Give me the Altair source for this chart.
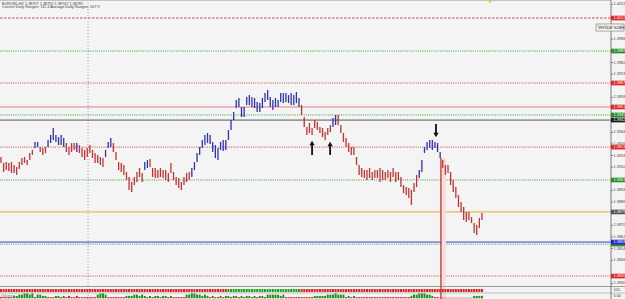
import altair as alt
import pandas as pd

# ---------------- data ----------------
high = [
    1.39170, 1.39129, 1.39135, 1.39129, 1.39135, 1.39115, 1.39101, 1.39135, 1.39163, 1.39170,
    1.39149, 1.39197, 1.39218, 1.39273, 1.39273, 1.39238, 1.39232, 1.39238, 1.39287, 1.39321,
    1.39369, 1.39321, 1.39307, 1.39321, 1.39300, 1.39266, 1.39238, 1.39266, 1.39266, 1.39266,
    1.39252, 1.39232, 1.39218, 1.39232, 1.39252, 1.39218, 1.39197, 1.39184, 1.39170, 1.39163,
    1.39218, 1.39273, 1.39300, 1.39266, 1.39204, 1.39135, 1.39129, 1.39115, 1.39067, 1.39032,
    1.38998, 1.39032, 1.39067, 1.39094, 1.39060, 1.39135, 1.39149, 1.39156, 1.39094, 1.39094,
    1.39080, 1.39094, 1.39080, 1.39080, 1.39060, 1.39129, 1.39067, 1.39032, 1.39025, 1.38998,
    1.39032, 1.39060, 1.39067, 1.39094, 1.39135, 1.39197, 1.39238, 1.39287, 1.39321, 1.39335,
    1.39321, 1.39273, 1.39252, 1.39232, 1.39273, 1.39287, 1.39287, 1.39356, 1.39424, 1.39479,
    1.39562, 1.39576, 1.39514, 1.39514, 1.39583, 1.39596, 1.39583, 1.39576, 1.39548, 1.39541,
    1.39576, 1.39610, 1.39631, 1.39583, 1.39562, 1.39576, 1.39562, 1.39610, 1.39610, 1.39610,
    1.39596, 1.39610, 1.39596, 1.39617, 1.39576, 1.39528, 1.39445, 1.39376, 1.39404, 1.39369,
    1.39424, 1.39411, 1.39376, 1.39369, 1.39342, 1.39369, 1.39390, 1.39438, 1.39459, 1.39459,
    1.39390, 1.39335, 1.39300, 1.39266, 1.39238, 1.39238, 1.39170, 1.39115, 1.39094, 1.39080,
    1.39080, 1.39094, 1.39067, 1.39080, 1.39080, 1.39094, 1.39080, 1.39067, 1.39080, 1.39067,
    1.39094, 1.39067, 1.39067, 1.39032, 1.38977, 1.38963, 1.38956, 1.38943, 1.38991, 1.39046,
    1.39080, 1.39149, 1.39238, 1.39273, 1.39287, 1.39287, 1.39273, 1.39266, 1.39204, 1.39149,
    1.39115, 1.39115, 1.39067, 1.39012, 1.38963, 1.38908, 1.38860, 1.38826, 1.38792, 1.38792,
    1.38757, 1.38716, 1.38702, 1.38750, 1.38785,
]
low = [
    1.39129, 1.39067, 1.39080, 1.39074, 1.39060, 1.39060, 1.39046, 1.39087, 1.39115, 1.39129,
    1.39115, 1.39149, 1.39184, 1.39232, 1.39238, 1.39204, 1.39184, 1.39197, 1.39238, 1.39266,
    1.39287, 1.39273, 1.39252, 1.39252, 1.39238, 1.39204, 1.39184, 1.39204, 1.39218, 1.39204,
    1.39197, 1.39170, 1.39149, 1.39170, 1.39197, 1.39163, 1.39129, 1.39129, 1.39115, 1.39101,
    1.39170, 1.39232, 1.39238, 1.39204, 1.39149, 1.39080, 1.39067, 1.39046, 1.39012, 1.38943,
    1.38929, 1.38977, 1.38998, 1.39032, 1.38998, 1.39080, 1.39094, 1.39101, 1.39032, 1.39025,
    1.39025, 1.39032, 1.39025, 1.39012, 1.38998, 1.39060, 1.39012, 1.38977, 1.38956, 1.38943,
    1.38977, 1.38998, 1.39012, 1.39032, 1.39080, 1.39135, 1.39184, 1.39232, 1.39252, 1.39266,
    1.39259, 1.39204, 1.39163, 1.39149, 1.39218, 1.39211, 1.39218, 1.39287, 1.39356, 1.39424,
    1.39507, 1.39514, 1.39445, 1.39445, 1.39528, 1.39528, 1.39514, 1.39507, 1.39479, 1.39479,
    1.39507, 1.39548, 1.39562, 1.39514, 1.39493, 1.39514, 1.39514, 1.39548, 1.39541, 1.39548,
    1.39541, 1.39528, 1.39528, 1.39541, 1.39514, 1.39459, 1.39376, 1.39321, 1.39335, 1.39321,
    1.39369, 1.39356, 1.39335, 1.39307, 1.39287, 1.39321, 1.39342, 1.39376, 1.39390, 1.39390,
    1.39335, 1.39273, 1.39238, 1.39204, 1.39184, 1.39184, 1.39115, 1.39046, 1.39032, 1.39025,
    1.39012, 1.39025, 1.39012, 1.39025, 1.39025, 1.38998, 1.39012, 1.39012, 1.39025, 1.38998,
    1.39032, 1.38998, 1.39012, 1.38963, 1.38922, 1.38908, 1.38888, 1.38840, 1.38929, 1.38963,
    1.39025, 1.39067, 1.39197, 1.39218, 1.39232, 1.39218, 1.39232, 1.39204, 1.39163, 1.39094,
    1.39046, 1.39060, 1.38977, 1.38929, 1.38888, 1.38826, 1.38792, 1.38736, 1.38723, 1.38736,
    1.38716, 1.38647, 1.38633, 1.38681, 1.38736,
]
# bar colour runs: u = blue (up), d = red (down)
dir_runs = [("d", 13), ("u", 2), ("d", 3), ("u", 7), ("d", 4), ("u", 1), ("d", 10),
            ("u", 3), ("d", 12), ("u", 2), ("d", 16), ("u", 42), ("d", 12), ("u", 2),
            ("d", 31), ("u", 9), ("d", 16)]
# trend squares in the first indicator window
trend_runs = [("dn", 87), ("up", 28), ("dn", 70)]
# histogram in the second indicator window (positive = green, negative = red)
hist = [
    -1, -1, -1, -1, 1, 2, 2, 3, 3, 4, 4, 3, 4, -1, 3, 3, 2, 2, -1, -1, -1, 2, 2, -1, 2,
    -1, -2, -1, -1, -2, -1, 1, -1, -1, -1, -1, -1, 3, 4, 4, 3, -1, -1, -1, -1, -1, -1, -1,
    2, 2, 2, 3, 3, 2, 3, 2, -1, 2, -1, 2, 2, -1, 2, 2, -1, 2, -1, -1, -1, -1, -1,
    3, 3, 4, 4, 3, 3, 2, 3, 2, -1, 2, -1, -1, 2, -1, 2, 2, -1, 2, 2, -1, 2, -1, 2,
    2, -1, 2, -1, 2, 2, -1, 3, 3, 3, 3, 3, 2, 3, -1, -1, -1, -1, -1, -1, -1, -1, -1, -1, -1,
    2, 2, 2, 2, 2, 3, 3, 3, 4, 3, 3, 3, -1, 2, -1, 2, -1, -1, -1, -1, -1, -1, -1, -1,
    -1, 1, -1, -1, -1, -1, -1, -1, -1, -1, -1, -1, -1, 2, 3, 3, 4, 4, 4, 3, 3, 2, -1, -1,
    -0.5, -0.5, -0.5, -0.5, -0.5, -0.5, -0.5, -0.5, -0.5, -0.5, -0.5, -0.5, -0.5, 2, 2, 2, 2,
]

level_price = [1.40126, 1.39899, 1.39679, 1.39514, 1.39459, 1.39424, 1.39238,
               1.39012, 1.38792, 1.38571, 1.38585, 1.38351]
level_line = ["#d24545", "#3a9a3a", "#d24545", "#e48080", "#3a9a3a", "#555555", "#d24545",
              "#3a9a3a", "#f0a830", "#3a9a3a", "#4040cc", "#d24545"]
level_style = ["dash", "dot", "dot", "solid", "dot", "solid", "dot",
               "dot", "solid", "dot", "solid", "dot"]
level_box = ["#e02424", "#2a8a2a", "#e02424", "#e02424", "#2a8a2a", "#1e1e1e", "#e02424",
             "#2a8a2a", "#505050", "#2a8a2a", "#2424cc", "#e02424"]
level_text = ["1.40126", "1.39899", "1.39679", "1.39514", "1.39459", "1.39424", "1.39238",
              "1.39012", "1.38792", "", "1.38585", "1.38351"]

# price-scale labels that are not hidden behind a level box in the reference
tick_prices = [1.38300, 1.38460, 1.38540, 1.38620, 1.38700, 1.38860, 1.38940, 1.39100,
               1.39180, 1.39260, 1.39340, 1.39580, 1.39740, 1.39820, 1.39980, 1.40220]

separator_i = [33.3]
spike_i = [168.3]
spike_top = [1.39163]
arrow_i = [119.0, 125.9, 166.4]
arrow_tail = [1.39184, 1.39184, 1.39397]
arrow_tip = [1.39280, 1.39273, 1.39307]
arrow_dir = ["up", "up", "down"]

header1 = "EURUSD,H1  1.38757 1.38792 1.38747 1.38785"
header2 = "Current Daily Ranges: 111.3   Average Daily Ranges: 107.9"
trend_label = "100"
hist_label = "0.00"

# ---------------- build ----------------
BG = "#f4f4f4"
W, H = 625, 299
AX = 611            # right price-scale border
SQ_TOP, HI_TOP = 286, 293
FONT = "Liberation Sans"

direction = [c for c, k in dir_runs for _ in range(k)]
trend = [c for c, k in trend_runs for _ in range(k)]
n = len(high)
assert len(low) == n and len(direction) == n and len(trend) == n and len(hist) == n

bars = pd.DataFrame({"i": list(range(n)), "high": high, "low": low,
                     "dir": direction, "trend": trend, "hist": hist})
levels = pd.DataFrame({"price": level_price, "line": level_line, "style": level_style,
                       "box": level_box, "label": level_text})
ticks = pd.DataFrame({"price": tick_prices, "label": [f"{p:.5f}" for p in tick_prices]})
one = pd.DataFrame({"k": [0]})
sep_df = pd.DataFrame({"i": separator_i})
spike_df = pd.DataFrame({"i": spike_i, "top": spike_top})
arrows = pd.DataFrame({"i": arrow_i, "tail": arrow_tail, "tip": arrow_tip, "dir": arrow_dir})

XS = alt.Scale(domain=[-0.383, 238.71], nice=False, zero=False)
# price scale over the whole 299 px (main window occupies the top 286 px)
YS = alt.Scale(domain=[1.38193, 1.40250], nice=False, zero=False)
# histogram scale: 0 sits at 298.3 px, 1 unit = 1.2 px
HS = alt.Scale(domain=[-0.6, 248.57], nice=False, zero=False)


def X(f):
    return alt.X(f, scale=XS, axis=None)


def Y(f):
    return alt.Y(f, scale=YS, axis=None)


layers = []

# vertical period separator
layers.append(alt.Chart(sep_df).mark_rule(color="#9a9a9a", strokeDash=[1, 2], strokeWidth=1)
              .encode(x=X("i:Q")))

# horizontal levels
for style, dash in [("dot", [1, 1.2]), ("dash", [2.5, 1.5]), ("solid", None)]:
    kw = {"strokeDash": dash} if dash else {}
    layers.append(
        alt.Chart(levels).transform_filter(alt.datum.style == style)
        .mark_rule(strokeWidth=1, **kw)
        .encode(y=Y("price:Q"), x=alt.value(0), x2=alt.value(AX),
                color=alt.Color("line:N", scale=None)))

# spike with its pale band
layers.append(alt.Chart(spike_df).transform_calculate(b0="datum.i + 0.3", b1="datum.i + 1.9")
              .mark_rect(color="#f3dfdf").encode(x=X("b0:Q"), x2="b1:Q", y=Y("top:Q"),
                                                  y2=alt.value(H)))
layers.append(alt.Chart(spike_df).mark_rule(color="#cc3a3a", strokeWidth=1.4)
              .encode(x=X("i:Q"), y=Y("top:Q"), y2=alt.value(H)))

# price bars
layers.append(
    alt.Chart(bars).transform_calculate(
        col="datum.dir == 'u' ? '#2c31b0' : '#c63030'")
    .mark_rule(strokeWidth=1.3)
    .encode(x=X("i:Q"), y=Y("high:Q"), y2="low:Q", color=alt.Color("col:N", scale=None)))

# arrows
arrow_base = alt.Chart(arrows).transform_calculate(
    hy="datum.dir == 'up' ? datum.tip - 0.00014 : datum.tip + 0.00014",
    shp="datum.dir == 'up' ? 'triangle-up' : 'triangle-down'")
layers.append(arrow_base.mark_rule(color="#111111", strokeWidth=1.8)
              .encode(x=X("i:Q"), y=Y("tail:Q"), y2="hy:Q"))
layers.append(arrow_base.mark_point(filled=True, size=28, color="#111111", opacity=1)
              .encode(x=X("i:Q"), y=Y("hy:Q"), shape=alt.Shape("shp:N", scale=None)))

# indicator windows
layers.append(alt.Chart(one).mark_rect(color=BG).encode(
    x=alt.value(0), x2=alt.value(AX), y=alt.value(SQ_TOP), y2=alt.value(H)))
layers.append(alt.Chart(sep_df).mark_rule(color="#9a9a9a", strokeDash=[1, 2], strokeWidth=1)
              .encode(x=X("i:Q"), y=alt.value(SQ_TOP), y2=alt.value(H)))
layers.append(alt.Chart(spike_df).transform_calculate(b0="datum.i + 0.3", b1="datum.i + 1.9")
              .mark_rect(color="#f3dfdf").encode(x=X("b0:Q"), x2="b1:Q",
                                                  y=alt.value(SQ_TOP), y2=alt.value(H)))
layers.append(alt.Chart(one).mark_rule(color="#9c9c9c", strokeWidth=1.2).encode(
    y=alt.value(SQ_TOP + 0.5), x=alt.value(0), x2=alt.value(W)))
layers.append(alt.Chart(one).mark_rule(color="#bcbcbc", strokeWidth=1).encode(
    y=alt.value(HI_TOP), x=alt.value(0), x2=alt.value(W)))
layers.append(
    alt.Chart(bars).transform_calculate(
        x1="datum.i - 0.38", x2="datum.i + 0.38",
        col="datum.trend == 'up' ? '#1e9e1e' : '#dd2020'")
    .mark_rect().encode(x=X("x1:Q"), x2="x2:Q", y=alt.value(289), y2=alt.value(292),
                        color=alt.Color("col:N", scale=None)))
layers.append(
    alt.Chart(bars).transform_calculate(
        x1="datum.i - 0.38", x2="datum.i + 0.38", z="0", hv="abs(datum.hist)",
        col="datum.hist > 0 ? '#1d8f1d' : '#d22424'")
    .mark_rect().encode(x=X("x1:Q"), x2="x2:Q", y=alt.Y("z:Q", scale=HS, axis=None),
                        y2="hv:Q", color=alt.Color("col:N", scale=None)))
layers.append(alt.Chart(spike_df).mark_rule(color="#cc3a3a", strokeWidth=1.4)
              .encode(x=X("i:Q"), y=alt.value(SQ_TOP), y2=alt.value(H)))
layers.append(alt.Chart(pd.DataFrame({"t": ["Volumes"]})).mark_text(
    align="left", baseline="middle", fontSize=3.6, color="#808080", font=FONT).encode(
    x=alt.value(1), y=alt.value(295.5), text="t:N"))

# right price scale
layers.append(alt.Chart(one).mark_rule(color="#c4c4c4").encode(
    y=alt.value(0.5), x=alt.value(0), x2=alt.value(AX)))
layers.append(alt.Chart(one).mark_rule(color="#7a7a7a", strokeWidth=1).encode(
    x=alt.value(AX), y=alt.value(0), y2=alt.value(H)))
layers.append(alt.Chart(ticks).mark_rule(color="#7a7a7a").encode(
    y=Y("price:Q"), x=alt.value(AX), x2=alt.value(AX + 2)))
layers.append(alt.Chart(ticks).mark_text(align="left", baseline="middle", fontSize=3.9,
                                         color="#444444", font=FONT, clip=True).encode(
    y=Y("price:Q"), x=alt.value(AX + 2.5), text="label:N"))
layers.append(alt.Chart(levels).transform_calculate(
    lo="datum.price - 0.00016", hi="datum.price + 0.00016").mark_rect().encode(
    y=Y("lo:Q"), y2="hi:Q", x=alt.value(AX), x2=alt.value(W),
    color=alt.Color("box:N", scale=None)))
layers.append(alt.Chart(levels).mark_text(align="left", baseline="middle", fontSize=3.9,
                                          color="#ffffff", font=FONT, clip=True).encode(
    y=Y("price:Q"), x=alt.value(AX + 2.5), text="label:N"))
layers.append(alt.Chart(pd.DataFrame({"t": [trend_label]})).mark_text(
    align="left", baseline="middle", fontSize=3.8, color="#444444", font=FONT, clip=True).encode(
    x=alt.value(AX + 2.5), y=alt.value(289.5), text="t:N"))
layers.append(alt.Chart(pd.DataFrame({"t": [hist_label]})).mark_text(
    align="left", baseline="middle", fontSize=3.8, color="#444444", font=FONT, clip=True).encode(
    x=alt.value(AX + 2.5), y=alt.value(296.3), text="t:N"))

# header, tooltip and marker
layers.append(alt.Chart(pd.DataFrame({"t": [header1]})).mark_text(
    align="left", baseline="middle", fontSize=3.8, color="#3a3a3a", font=FONT).encode(
    x=alt.value(2), y=alt.value(3.6), text="t:N"))
layers.append(alt.Chart(pd.DataFrame({"t": [header2]})).mark_text(
    align="left", baseline="middle", fontSize=3.8, color="#3a3a3a", font=FONT).encode(
    x=alt.value(2), y=alt.value(7.4), text="t:N"))
layers.append(alt.Chart(one).mark_rect(fill="#fbfbf6", stroke="#808080", strokeWidth=0.7).encode(
    x=alt.value(596), x2=alt.value(624), y=alt.value(24), y2=alt.value(31)))
layers.append(alt.Chart(pd.DataFrame({"t": ["Vertical scale"]})).mark_text(
    align="left", baseline="middle", fontSize=4.6, color="#333333", font=FONT, clip=True).encode(
    x=alt.value(597.5), y=alt.value(27.6), text="t:N"))
layers.append(alt.Chart(one).mark_point(shape="triangle-down", filled=True, size=10,
                                        color="#f2c010", opacity=1).encode(
    x=alt.value(490), y=alt.value(2)))

chart = alt.layer(*layers).resolve_scale(
    y="independent", color="independent", shape="independent"
).properties(
    width=W, height=H, background=BG, padding=0,
    autosize=alt.AutoSizeParams(type="none"),
).configure_view(stroke=None)

chart.save("out.html", embed_options={"renderer": "svg", "actions": False})
